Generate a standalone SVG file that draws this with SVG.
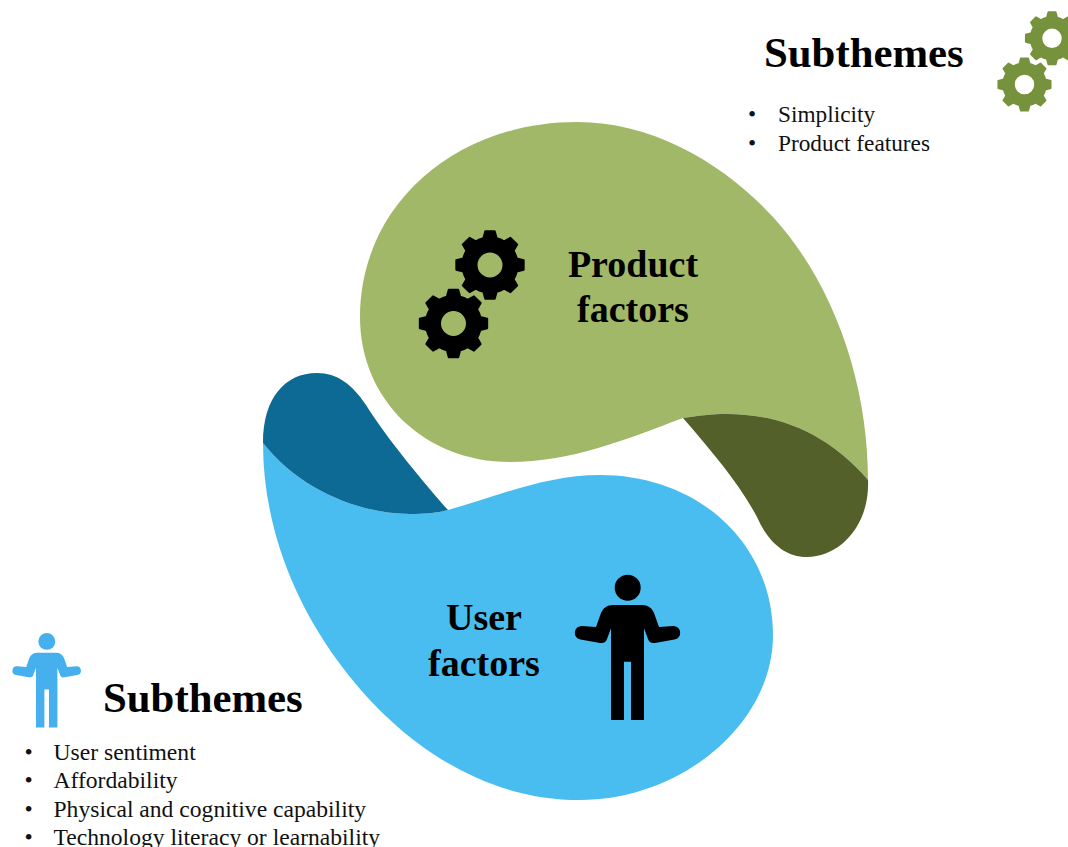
<svg xmlns="http://www.w3.org/2000/svg" width="1068" height="847" viewBox="0 0 1068 847">
<style>
.h{font-family:"Liberation Serif","Times New Roman",serif;font-weight:700;font-size:42.8px;fill:#000}
.l{font-family:"Liberation Serif","Times New Roman",serif;font-weight:700;font-size:38px;fill:#000;text-anchor:middle}
.t{font-family:"Liberation Serif","Times New Roman",serif;font-size:23.3px;fill:#111}
.b{font-size:23.6px}
.gk{fill:#000;stroke:#000}
.gg{fill:#76923c;stroke:#76923c}
</style>
<defs>
<path id="gear" fill-rule="evenodd" stroke-width="2" stroke-linejoin="round" d="M33.67,-4.73 L33.67,4.73 L26.68,6.65 A27.5,27.5 0 0 1 23.57,14.16 L27.15,20.46 L20.46,27.15 L14.16,23.57 A27.5,27.5 0 0 1 6.65,26.68 L4.73,33.67 L-4.73,33.67 L-6.65,26.68 A27.5,27.5 0 0 1 -14.16,23.57 L-20.46,27.15 L-27.15,20.46 L-23.57,14.16 A27.5,27.5 0 0 1 -26.68,6.65 L-33.67,4.73 L-33.67,-4.73 L-26.68,-6.65 A27.5,27.5 0 0 1 -23.57,-14.16 L-27.15,-20.46 L-20.46,-27.15 L-14.16,-23.57 A27.5,27.5 0 0 1 -6.65,-26.68 L-4.73,-33.67 L4.73,-33.67 L6.65,-26.68 A27.5,27.5 0 0 1 14.16,-23.57 L20.46,-27.15 L27.15,-20.46 L23.57,-14.16 A27.5,27.5 0 0 1 26.68,-6.65 Z M13.5,0 A13.5,13.5 0 1 0 -13.5,0 A13.5,13.5 0 1 0 13.5,0 Z"/>
<g id="person">
<circle cx="627.7" cy="587.7" r="13"/>
<path d="M613,605 H642 C648,605 652,608 654,613 L659,627 L673,626 A6.8,6.8 0 0 1 674.5,639.5 L655,643 C651,643.5 649,642 648,639 L644,628.3 V720 H631 V661.7 H624 V720 H611 V628.3 L607,639 C606,642 604,643.5 600,643 L580.5,639.5 A6.8,6.8 0 0 1 582,626 L596,627 L601,613 C603,608 607,605 613,605 Z"/>
</g>
</defs>
<rect width="1068" height="847" fill="#fff"/>
<g id="product-factors">
<path fill="#a2b869" d="M577,122 C655,122 725,165 773,217 C835,285 868,385 868,480 C832,438 785,414 727,414 C710,414 698,416 683,418 C625,440 570,462 510,462 C425,462 360,400 360,317 C360,205 455,122 577,122 Z"/>
<path fill="#536029" d="M683,418 C698,416 710,414 727,414 C785,414 832,438 868,480 C870,525 840,557 807,557 C785,557 768,542 757,517 C740,485 715,455 683,418 Z"/>
<use href="#gear" class="gk" transform="translate(490,265)"/>
<use href="#gear" class="gk" transform="translate(453.5,323.5)"/>
<text class="l" x="633" y="277">Product</text>
<text class="l" x="633" y="322">factors</text>
</g>
<g id="user-factors">
<path fill="#4abdf0" d="M263,443 C300,490 360,514 410,514 C425,514 437,513 448,510 C495,497 545,475 600,475 C700,475 773,545 773,635 C773,725 680,800 580,800 C480,800 395,740 337,660 C290,595 263,520 263,443 Z"/>
<path fill="#0d6a94" d="M263,443 C300,490 360,514 410,514 C425,514 437,513 448,510 C425,484 388,440 366,405 C352,384 337,373 317,373 C285,373 263,398 263,443 Z"/>
<use href="#person"/>
<text class="l" x="484" y="630">User</text>
<text class="l" x="484" y="676">factors</text>
</g>
<g id="product-subthemes">
<text class="h" x="764" y="67">Subthemes</text>
<use href="#gear" class="gg" transform="translate(1052,38.3) scale(.78)"/>
<use href="#gear" class="gg" transform="translate(1024.5,84.5) scale(.78)"/>
<text class="t" x="748" y="122">•</text>
<text class="t" x="778" y="122">Simplicity</text>
<text class="t" x="748" y="151">•</text>
<text class="t" x="778" y="151">Product features</text>
</g>
<g id="user-subthemes">
<use href="#person" fill="#46b0ef" transform="translate(-361.2,259.4) scale(.65)"/>
<text class="h" x="103" y="712">Subthemes</text>
<text class="t b" x="24.5" y="759.5">•</text>
<text class="t b" x="53.5" y="759.5">User sentiment</text>
<text class="t b" x="24.5" y="788">•</text>
<text class="t b" x="53.5" y="788">Affordability</text>
<text class="t b" x="24.5" y="816.5">•</text>
<text class="t b" x="53.5" y="816.5">Physical and cognitive capability</text>
<text class="t b" x="24.5" y="845">•</text>
<text class="t b" x="53.5" y="845">Technology literacy or learnability</text>
</g>
<g id="connectors"/>
</svg>
